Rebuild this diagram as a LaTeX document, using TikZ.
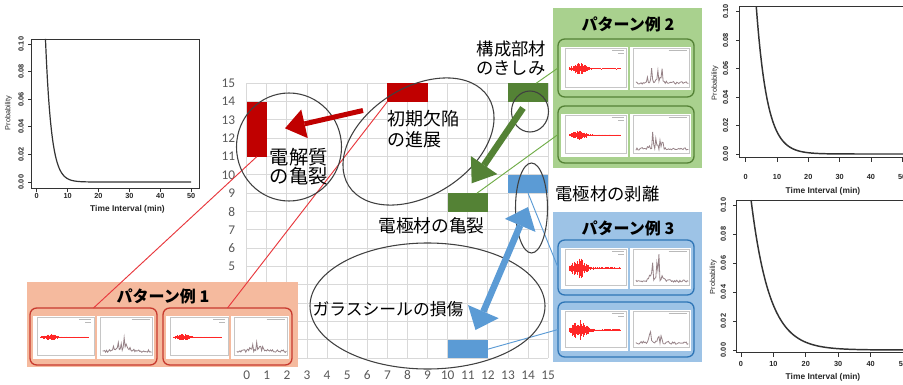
\documentclass[tikz,border=0pt]{standalone}
\usepackage{fontspec}
\setmainfont{Liberation Sans}
\newfontfamily\jpfont{Noto Sans CJK JP}
\newfontfamily\calfont{Carlito}
\usetikzlibrary{arrows.meta,fit,calc}
\definecolor{cRed}{HTML}{C00000}
\definecolor{cGreen}{HTML}{548235}
\definecolor{cBlue}{HTML}{5B9BD5}
\definecolor{bgRed}{HTML}{F5BA9E}
\definecolor{bgGreen}{HTML}{A9D18E}
\definecolor{bgBlue}{HTML}{9DC3E6}
\definecolor{bdRed}{HTML}{C83A2E}
\definecolor{bdGreen}{HTML}{548235}
\definecolor{bdBlue}{HTML}{2E75B6}
\definecolor{gridc}{HTML}{D9D9D9}
\definecolor{axlab}{HTML}{595959}
\definecolor{lnRed}{HTML}{E8383D}
\definecolor{lnGreen}{HTML}{70AD47}
\definecolor{lnBlue}{HTML}{5B9BD5}
\definecolor{specc}{HTML}{968287}
\newcommand\minis[7]{%
  \pgfmathsetseed{#5}%
  \pgfmathsetmacro\mW{#3-#1}%
  \pgfmathsetmacro\mL{#1+3.3}%
  \pgfmathsetmacro\mM{#1+0.515*\mW}%
  \pgfmathsetmacro\mN{#1+0.528*\mW}%
  \pgfmathsetmacro\mR{#3-3.3}%
  \pgfmathsetmacro\mT{#2+8}%
  \pgfmathsetmacro\mB{#4-6.5}%
  \fill[white] (\mL,\mT) rectangle (\mM,\mB);
  \fill[white] (\mN,\mT) rectangle (\mR,\mB);
  \draw[gray!45, line width=0.3pt] (\mL+3.5,\mT+1.5) rectangle (\mM-1.5,\mB-3);
  \draw[gray!45, line width=0.3pt] (\mN+3.5,\mT+1.5) rectangle (\mR-1.5,\mB-3);
  \draw[gray!55, line width=0.4pt] (\mM-16,\mT+3.5) -- (\mM-4,\mT+3.5) (\mM-10,\mT+6.5) -- (\mM-4,\mT+6.5);
  \draw[gray!55, line width=0.4pt] (\mR-22,\mT+3.5) -- (\mR-4,\mT+3.5);
  \pgfmathsetmacro\mY{(\mT+\mB)/2}%
  \pgfmathsetmacro\pw{\mM-\mL}%
  \foreach \k in {0,...,60}{%
    \pgfmathsetmacro\xx{\mL+(0.12+0.76*\k/60)*\pw}%
    \pgfmathsetmacro\aa{#6*(0.12+exp(-(\k/60-0.2)*(\k/60-0.2)/0.0225))*(0.35+0.65*rnd)}%
    \draw[red!85, line width=0.6pt] (\xx,\mY-\aa) -- (\xx,\mY+\aa);
  }
  \pgfmathsetmacro\qw{\mR-\mN}%
  \pgfmathsetmacro\qh{\mB-\mT}%
  \draw[specc, line width=0.6pt] plot[samples at={0,...,50}, variable=\k]
    ({\mN+(0.1+0.86*\k/50)*\qw}, {\mB-4.5-\qh*(0.04+0.06*rnd+#7*rnd*rnd*exp(-(\k/50-0.4)*(\k/50-0.4)/0.02))});
}
\begin{document}
\begin{tikzpicture}[x=0.75pt,y=-0.75pt,
  gridline/.style={draw=gridc, line width=0.75pt},
  axl/.style={font=\calfont\fontsize{10}{12}\selectfont, text=axlab, inner sep=0pt},
  bar/.style={inner sep=0pt, outer sep=0pt, draw=none},
  bgbox/.style={inner sep=0pt, outer sep=0pt, draw=none},
  ibox/.style={inner sep=0pt, outer sep=0pt, rounded corners=5pt, line width=1pt},
  ttl/.style={font=\jpfont\bfseries\fontsize{12}{14}\selectfont, inner sep=0pt},
  jlab/.style={font=\jpfont\fontsize{13}{15}\selectfont, inner sep=0pt, align=left},
  ell/.style={draw=black!75, line width=0.8pt},
  thinln/.style={line width=0.7pt},
  cbox/.style={draw=black!80, line width=0.7pt},
  ctick/.style={draw=black!80, line width=0.6pt},
  ctl/.style={font=\bfseries\fontsize{5.5}{6}\selectfont, inner sep=0pt, text=black!85},
  cyl/.style={font=\fontsize{5.5}{6}\selectfont, inner sep=0pt, text=black!85},
  cxl/.style={font=\bfseries\fontsize{6.3}{7}\selectfont, inner sep=0pt, text=black!85},
  curve/.style={draw=black!80, line width=1.1pt}
]
\useasboundingbox (0,0) rectangle (903,385);
\fill[white] (0,0) rectangle (903,385);

% ---------- grid ----------
\foreach \i in {0,...,15}{
  \draw[gridline] ({246.7+20.1*\i},83.3) -- ({246.7+20.1*\i},358.3);
  \draw[gridline] (246.7,{358.3-18.333*\i}) -- (548.2,{358.3-18.333*\i});
  \node[axl] (xl\i) at ({246.7+20.1*\i},375) {\i};
}
\foreach \j in {5,...,15}{
  \node[axl, anchor=east] (yl\j) at (235.5,{358.3-18.333*\j}) {\j};
}

% ---------- pattern boxes ----------
\node[bgbox, fill=bgRed, fit={(27,282) (298,367)}] (pat1) {};
\node[bgbox, fill=bgGreen, fit={(553,8) (702,168)}] (pat2) {};
\node[bgbox, fill=bgBlue, fit={(553,212) (702,362)}] (pat3) {};

\node[ibox, draw=bdRed, fit={(30,308) (157,365)}] (p1a) {};
\node[ibox, draw=bdRed, fit={(163,308) (292,365)}] (p1b) {};
\node[ibox, draw=bdGreen, fit={(558,39) (694,97)}] (p2a) {};
\node[ibox, draw=bdGreen, fit={(558,106) (694,163)}] (p2b) {};
\node[ibox, draw=bdBlue, fit={(558,240) (694,295)}] (p3a) {};
\node[ibox, draw=bdBlue, fit={(558,302) (694,357)}] (p3b) {};

\minis{30}{308}{157}{365}{11}{3.2}{0.5}
\minis{163}{308}{292}{365}{23}{3.2}{0.6}
\minis{558}{39}{694}{97}{37}{5.5}{0.7}
\minis{558}{106}{694}{163}{41}{5}{0.8}
\minis{558}{240}{694}{295}{53}{9.5}{1.0}
\minis{558}{302}{694}{357}{67}{9.5}{1.0}

\node[ttl] (t1) at (163,296.5) {パターン例 1};
\node[ttl] (t2) at (628,24.5) {パターン例 2};
\node[ttl] (t3) at (628,228) {パターン例 3};

% ---------- bars ----------
\node[bar, fill=cRed, fit={(246.7,101.6) (266.8,156.7)}] (rb1) {};
\node[bar, fill=cRed, fit={(387.4,83.3) (427.6,101.6)}] (rb2) {};
\node[bar, fill=cGreen, fit={(508,83.3) (548.2,101.6)}] (gb1) {};
\node[bar, fill=cGreen, fit={(447.7,193.3) (487.9,211.7)}] (gb2) {};
\node[bar, fill=cBlue, fit={(508,175) (548.2,193.3)}] (bb1) {};
\node[bar, fill=cBlue, fit={(447.7,340) (487.9,358.3)}] (bb2) {};

% ---------- thin connectors ----------
\draw[thinln, lnRed] (rb1.south) -- (p1a.north);
\draw[thinln, lnRed] (rb2.south west) -- (p1b.north);
\draw[thinln, lnGreen] ($(gb1.north)+(8,0)$) -- (p2a.west);
\draw[thinln, lnGreen] ($(gb2.north)+(9,0)$) -- (p2b.west);
\draw[thinln, lnBlue] (bb1.south) -- (p3a.west);
\draw[thinln, lnBlue] (bb2.east) -- (p3b.west);

% ---------- ellipses ----------
\draw[ell] (289,147) ellipse [x radius=52.5, y radius=54];
\draw[ell, rotate around={32.5:(418.5,141.5)}] (418.5,141.5) ellipse [x radius=82.7, y radius=53.9];
\draw[ell] (530,111.5) ellipse [x radius=18.5, y radius=20.5];
\draw[ell] (531.5,208) ellipse [x radius=16, y radius=45];
\draw[ell] (427.5,306) ellipse [x radius=117.5, y radius=63];

% ---------- big arrows ----------
\coordinate (raS) at (363,110.5);
\coordinate (raE) at (285,128.3);
\coordinate (gaS) at (523,108);
\coordinate (gaE) at (471.7,183.3);
\coordinate (baS) at (475.5,330);
\coordinate (baE) at (528,207);
\draw[cRed, line width=3.75pt, -{Triangle[length=15pt,width=22pt,line width=0pt]}] (raS) -- (raE);
\draw[cGreen, line width=4.9pt, -{Triangle[length=16.5pt,width=24pt,line width=0pt]}] (gaS) -- (gaE);
\draw[cBlue, line width=4.9pt, {Triangle[length=15pt,width=25pt,line width=0pt]}-{Triangle[length=15pt,width=25pt,line width=0pt]}] (baS) -- (baE);

% ---------- labels ----------
\node[jlab, anchor=west, font=\jpfont\fontsize{13}{14.3}\selectfont] (lk) at (476.5,58) {構成部材\\のきしみ};
\node[jlab, anchor=west, font=\jpfont\fontsize{13.5}{15.7}\selectfont] (ls) at (387.5,129.5) {初期欠陥\\の進展};
\node[jlab, anchor=west, font=\jpfont\fontsize{14.5}{14.6}\selectfont] (ld) at (269.5,166.5) {電解質\\の亀裂};
\node[jlab, font=\jpfont\fontsize{13.3}{15}\selectfont] (le) at (431.5,226) {電極材の亀裂};
\node[jlab, font=\jpfont\fontsize{13}{15}\selectfont] (lh) at (607.5,193.5) {電極材の剥離};
\node[jlab, font=\jpfont\fontsize{12.6}{15}\selectfont] (lg) at (388,309) {ガラスシールの損傷};

% ---------- chart 1 (top left) ----------
\draw[cbox] (31.7,39.3) rectangle (199,188.3);
\foreach \tv [count=\n] in {0,10,20,30,40,50}{
  \draw[ctick] ({36.7+3.09*\tv},188.3) -- ++(0,3.5);
  \node[ctl] (c1x\n) at ({36.7+3.09*\tv},196) {\tv};
}
\foreach \v/\lab [count=\n] in {0/0.00,1/0.02,2/0.04,3/0.06,4/0.08,5/0.10}{
  \draw[ctick] (31.7,{182-27.6*\v}) -- ++(-3.5,0);
  \node[ctl, rotate=90] (c1y\n) at (21,{182-27.6*\v}) {\lab};
}
\node[cyl, rotate=90] (c1p) at (8.5,113) {Probability};
\node[cxl] (c1t) at (127.5,209.3) {Time Interval (min)};
\draw[curve, line width=0.9pt] plot[domain=2.83:50, samples=150] ({36.7+3.09*\x},{182-138*exp(-(\x-2.9)/1.9)});

% ---------- chart 2 (top right) ----------
\draw[cbox] (915,6.7) -- (739.3,6.7) -- (739.3,157) -- (915,157);
\foreach \tv [count=\n] in {0,10,20,30,40,50}{
  \draw[ctick] ({745.7+3.13*\tv},157) -- ++(0,5);
  \node[ctl] (c2x\n) at ({745.7+3.13*\tv},176.7) {\tv};
}
\foreach \v/\lab [count=\n] in {0/0.00,1/0.02,2/0.04,3/0.06,4/0.08,5/0.10}{
  \draw[ctick] (739.3,{154-28.46*\v}) -- ++(-3.5,0);
  \node[ctl, rotate=90] (c2y\n) at (725.5,{154-28.46*\v}) {\lab};
}
\node[cyl, rotate=90] (c2p) at (715,83) {Probability};
\node[cxl] (c2t) at (823,191.7) {Time Interval (min)};
\draw[curve] plot[domain=3.38:51, samples=150] ({745.7+3.13*\x},{154-142.3*exp(-(\x-3.5)/3.5)});

% ---------- chart 3 (bottom right) ----------
\draw[cbox] (915,200) -- (736,200) -- (736,352.3) -- (915,352.3);
\foreach \tv [count=\n] in {0,10,20,30,40,50}{
  \draw[ctick] ({741+3.24*\tv},352.3) -- ++(0,4.5);
  \node[ctl] (c3x\n) at ({741+3.24*\tv},364) {\tv};
}
\foreach \v/\lab [count=\n] in {0/0.00,1/0.02,2/0.04,3/0.06,4/0.08,5/0.10}{
  \draw[ctick] (736,{350-29*\v}) -- ++(-3.5,0);
  \node[ctl, rotate=90] (c3y\n) at (723.3,{350-29*\v}) {\lab};
}
\node[cyl, rotate=90] (c3p) at (713.3,277) {Probability};
\node[cxl] (c3t) at (823,377.7) {Time Interval (min)};
\draw[curve] plot[domain=3.11:51, samples=150] ({741+3.24*\x},{350-145*exp(-(\x-3.3)/5.7)});
\end{tikzpicture}
\end{document}
